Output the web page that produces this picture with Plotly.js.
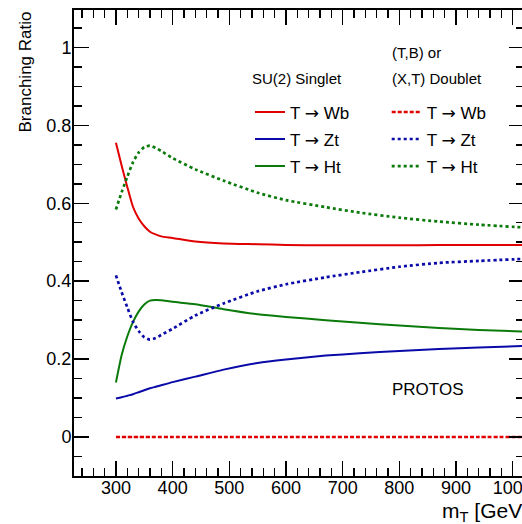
<!DOCTYPE html>
<html>
<head>
<meta charset="utf-8">
<script src="https://cdn.plot.ly/plotly-3.0.1.min.js"></script>
<style>html,body{margin:0;padding:0;background:#fff;overflow:hidden;}#chart{width:524px;height:524px;}</style>
</head>
<body>
<div id="chart"></div>
<script>
// top-quark partner mass m_T [GeV]
var massT = [300, 310, 320, 330, 340, 350, 360, 370, 380, 400, 440, 490, 550, 600, 670, 730, 800, 870, 940, 1030];

// SU(2) singlet branching ratios
var singletWb = [0.755, 0.697, 0.642, 0.591, 0.561, 0.541, 0.527, 0.520, 0.515, 0.511, 0.502, 0.497, 0.495, 0.493, 0.492, 0.492, 0.492, 0.493, 0.493, 0.493];
var singletZt = [0.099, 0.102, 0.106, 0.110, 0.115, 0.120, 0.125, 0.129, 0.133, 0.141, 0.155, 0.173, 0.190, 0.199, 0.209, 0.215, 0.221, 0.226, 0.230, 0.234];
var singletHt = [0.140, 0.210, 0.258, 0.295, 0.322, 0.340, 0.350, 0.352, 0.351, 0.347, 0.341, 0.328, 0.315, 0.308, 0.300, 0.293, 0.286, 0.280, 0.275, 0.270];

// (T,B) or (X,T) doublet branching ratios
var doubletWb = [0, 0, 0, 0, 0, 0, 0, 0, 0, 0, 0, 0, 0, 0, 0, 0, 0, 0, 0, 0];
var doubletZt = [0.415, 0.372, 0.333, 0.296, 0.272, 0.256, 0.250, 0.254, 0.262, 0.278, 0.312, 0.343, 0.374, 0.392, 0.410, 0.423, 0.437, 0.447, 0.452, 0.458];
var doubletHt = [0.584, 0.628, 0.668, 0.705, 0.730, 0.744, 0.748, 0.742, 0.734, 0.716, 0.687, 0.658, 0.627, 0.608, 0.590, 0.576, 0.563, 0.553, 0.545, 0.537];

var ARROW = '<span style="font-family:DejaVu Sans">\u2192</span>';
var seriesNames = ['T ' + ARROW + ' Wb', 'T ' + ARROW + ' Zt', 'T ' + ARROW + ' Ht'];
var yTickVals = [0, 0.2, 0.4, 0.6, 0.8, 1];
var yTickText = ['0', '0.2', '0.4', '0.6', '0.8', '1'];

var RED = '#e00000', BLUE = '#0a0aa8', GREEN = '#0a7a0a';
var FONT = 'Liberation Sans, Arial, Helvetica, sans-serif';

function solid(y, name, color, grp) {
  return {x: massT, y: y, name: name, type: 'scatter', mode: 'lines', legend: 'legend', legendgroup: grp,
    line: {color: color, width: 2, shape: 'spline', smoothing: 0.6}};
}
function dotted(y, name, color, dash, w, grp) {
  return {x: massT, y: y, name: name, type: 'scatter', mode: 'lines', legend: 'legend2', legendgroup: grp,
    line: {color: color, width: w, dash: dash, shape: 'spline', smoothing: 0.6}};
}

var data = [
  solid(singletWb, seriesNames[0], RED, 's1'),
  solid(singletZt, seriesNames[1], BLUE, 's2'),
  solid(singletHt, seriesNames[2], GREEN, 's3'),
  dotted(doubletWb, seriesNames[0], RED, '4px,2px', 2.5, 'd1'),
  dotted(doubletZt, seriesNames[1], BLUE, '3px,3px', 2.7, 'd2'),
  dotted(doubletHt, seriesNames[2], GREEN, '3px,3px', 2.7, 'd3')
];

var axisCommon = {
  showline: true, linewidth: 2, linecolor: '#000', mirror: 'allticks',
  ticks: 'inside', ticklen: 15, tickwidth: 1.5, tickcolor: '#000',
  showgrid: false, zeroline: false,
  tickfont: {family: FONT, size: 18, color: '#000'}
};

var legendCommon = {xanchor: 'left', yanchor: 'top', bgcolor: 'rgba(0,0,0,0)', traceorder: 'grouped', tracegroupgap: 2,
  font: {family: FONT, size: 17, color: '#000'}, itemclick: false};

// plot area: 74px .. 524px wide (right frame sits just beyond the 522px window)
var layout = {
  width: 524, height: 524,
  margin: {l: 74, r: 0, t: 10, b: 48, pad: 0},
  paper_bgcolor: '#fff', plot_bgcolor: '#fff',
  font: {family: FONT, color: '#000'},
  showlegend: true,
  xaxis: Object.assign({}, axisCommon, {
    range: [226, 1019.9], tick0: 0, dtick: 100, ticklabeloverflow: 'allow', ticklabelstandoff: -6,
    minor: {dtick: 20, tick0: 0, ticks: 'inside', ticklen: 8, tickwidth: 1.5, tickcolor: '#000', showgrid: false}
  }),
  yaxis: Object.assign({}, axisCommon, {
    range: [-0.1, 1.096], tickmode: 'array', tickvals: yTickVals, ticktext: yTickText,
    ticklabelstandoff: -3,
    minor: {tickmode: 'linear', tick0: 0, dtick: 0.05, ticks: 'inside', ticklen: 8, tickwidth: 1.5, tickcolor: '#000', showgrid: false}
  }),
  legend: Object.assign({}, legendCommon, {x: 176 / 450, y: 0.819}),
  legend2: Object.assign({}, legendCommon, {x: 312.7 / 450, y: 0.819}),
  annotations: [
    {text: 'Branching Ratio', xref: 'paper', yref: 'paper', x: -49 / 450, y: 1, xanchor: 'center', yanchor: 'top',
     textangle: -90, showarrow: false, font: {family: FONT, size: 17, color: '#000'}},
    {text: 'm<sub>T</sub> [GeV]', xref: 'paper', yref: 'paper', x: 366 / 450, y: -0.078, xanchor: 'left', yanchor: 'middle',
     showarrow: false, font: {family: FONT, size: 21, color: '#000'}},
    {text: 'PROTOS', xref: 'x', yref: 'y', x: 850, y: 0.121, xanchor: 'center', yanchor: 'middle',
     showarrow: false, font: {family: FONT, size: 17, color: '#000'}},
    {text: 'SU(2) Singlet', xref: 'x', yref: 'y', x: 536.6, y: 0.920, xanchor: 'left', yanchor: 'middle',
     showarrow: false, font: {family: FONT, size: 15, color: '#000'}},
    {text: '(T,B) or', xref: 'x', yref: 'y', x: 783.6, y: 0.987, xanchor: 'left', yanchor: 'middle',
     showarrow: false, font: {family: FONT, size: 15, color: '#000'}},
    {text: '(X,T) Doublet', xref: 'x', yref: 'y', x: 783.6, y: 0.920, xanchor: 'left', yanchor: 'middle',
     showarrow: false, font: {family: FONT, size: 15, color: '#000'}}
  ]
};

Plotly.newPlot('chart', data, layout, {staticPlot: true, displayModeBar: false});
</script>
</body>
</html>
